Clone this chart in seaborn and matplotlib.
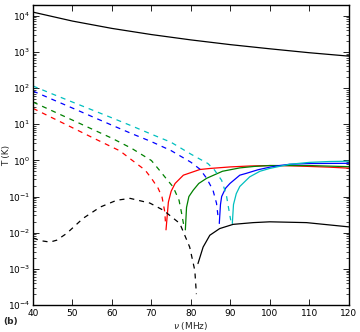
import matplotlib
matplotlib.use("Agg")
import matplotlib.pyplot as plt
import seaborn as sns
import pandas as pd
from matplotlib.ticker import LogLocator, FixedLocator

# ---- data: frequency (MHz) and temperature (K) ----
fg_nu = [40, 50, 60, 70, 80, 90, 100, 110, 120]
fg_T = [12600, 7130, 4470, 3020, 2150, 1590, 1220, 950, 765]

red_neg_nu = [40, 45, 50, 55, 60, 62, 65, 68.4, 70, 71.7, 72.7, 73.4, 73.6]
red_neg_T = [27.5, 14.8, 8.0, 4.3, 2.34, 1.84, 1.03, 0.54, 0.32, 0.17, 0.096, 0.037, 0.016]
red_pos_nu = [73.7, 74.3, 75, 76, 78.1, 82.3, 85, 90, 95, 100, 105, 110, 115, 120]
red_pos_T = [0.012, 0.07, 0.14, 0.23, 0.39, 0.56, 0.6, 0.66, 0.7, 0.72, 0.71, 0.68, 0.65, 0.61]

green_neg_nu = [40, 45, 50, 55, 60, 65, 70, 72, 74, 75.5, 77, 77.6, 78.2]
green_neg_T = [41, 23.1, 13.0, 7.3, 4.1, 2.15, 0.99, 0.54, 0.29, 0.185, 0.079, 0.037, 0.016]
green_pos_nu = [78.6, 78.9, 79.5, 80.6, 82, 84, 88, 92.4, 96, 100, 110, 120]
green_pos_T = [0.012, 0.05, 0.1, 0.15, 0.23, 0.32, 0.5, 0.62, 0.68, 0.72, 0.72, 0.67]

blue_neg_nu = [40, 45, 50, 55, 60, 65, 70, 75, 80, 82.3, 84, 85.6, 86.5, 86.9]
blue_neg_T = [82.8, 48, 28, 16.2, 9.4, 5.5, 3.3, 1.86, 0.89, 0.57, 0.32, 0.15, 0.065, 0.027]
blue_pos_nu = [87.2, 87.5, 87.8, 88.8, 89.9, 92.4, 94.1, 97, 100, 102.5, 105, 110, 120]
blue_pos_T = [0.018, 0.06, 0.1, 0.17, 0.23, 0.39, 0.44, 0.55, 0.65, 0.72, 0.78, 0.82, 0.83]

cyan_neg_nu = [40, 45, 50, 55, 60, 65, 70, 75, 80, 84.3, 86, 87.8, 89, 89.5, 90.1]
cyan_neg_T = [114, 68, 41, 24.8, 15.0, 9.0, 5.3, 3.16, 1.49, 0.82, 0.54, 0.28, 0.109, 0.052, 0.022]
cyan_pos_nu = [90.5, 90.8, 91.5, 92.4, 94.9, 97.5, 100, 105, 110, 115, 120]
cyan_pos_T = [0.018, 0.06, 0.12, 0.19, 0.35, 0.5, 0.6, 0.78, 0.88, 0.93, 0.95]

black_neg_nu = [40, 42, 44.3, 46, 48.5, 52.7, 57, 61.2, 64.6, 69.6, 73, 77.2, 79.7, 81, 81.4]
black_neg_T = [0.0071, 0.006, 0.0055, 0.0062, 0.0095, 0.025, 0.051, 0.079, 0.089, 0.066, 0.042,
               0.018, 0.004, 0.0009, 0.0002]
black_pos_nu = [81.8, 83.1, 84.8, 87.3, 90.7, 95.8, 100, 109.3, 120]
black_pos_T = [0.0014, 0.004, 0.0085, 0.013, 0.017, 0.019, 0.020, 0.019, 0.0145]

x_ticks = [40, 50, 60, 70, 80, 90, 100, 110, 120]

# -------------
sns.set_style("white")
plt.rcParams["font.family"] = ["DejaVu Sans"]
plt.rcParams["font.size"] = 6.5

fig = plt.figure(figsize=(3.6, 3.32), dpi=100)
ax = fig.add_axes([0.0917, 0.0813, 0.877, 0.904])

curves = [
    (fg_nu, fg_T, "k", "-"),
    (red_neg_nu, red_neg_T, "r", "--"),
    (red_pos_nu, red_pos_T, "r", "-"),
    (green_neg_nu, green_neg_T, "g", "--"),
    (green_pos_nu, green_pos_T, "g", "-"),
    (blue_neg_nu, blue_neg_T, "b", "--"),
    (blue_pos_nu, blue_pos_T, "b", "-"),
    (cyan_neg_nu, cyan_neg_T, "c", "--"),
    (cyan_pos_nu, cyan_pos_T, "c", "-"),
    (black_neg_nu, black_neg_T, "k", "--"),
    (black_pos_nu, black_pos_T, "k", "-"),
]

for nu, T, col, ls in curves:
    df = pd.DataFrame({"nu": nu, "T": T})
    sns.lineplot(data=df, x="nu", y="T", color=col, lw=0.9, ax=ax,
                 sort=False, estimator=None)
    if ls == "--":
        ax.lines[-1].set_dashes((4, 4))

ax.set_yscale("log")
ax.set_xlim(40, 120)
ax.set_ylim(1e-4, 2e4)
ax.xaxis.set_major_locator(FixedLocator(x_ticks))
ax.yaxis.set_major_locator(LogLocator(base=10, numticks=20))
ax.yaxis.set_minor_locator(LogLocator(base=10, subs=range(2, 10), numticks=20))

ax.tick_params(which="both", direction="in", top=True, right=True, labelsize=6.5,
               bottom=True, left=True, colors="black")
ax.tick_params(which="major", length=4, width=0.6, pad=2)
ax.tick_params(axis="x", which="major", pad=3)
ax.tick_params(which="minor", length=2, width=0.5)
for s in ax.spines.values():
    s.set_color("black")
    s.set_linewidth(1.0)

ax.set_xlabel(r"$\nu$ (MHz)", fontsize=6.5)
ax.set_ylabel("T (K)", fontsize=6.5)
ax.xaxis.set_label_coords(0.5, -0.05)
ax.yaxis.set_label_coords(-0.07, 0.5)
fig.text(0.01, 0.032, "(b)", fontsize=6.5, fontweight="bold", va="center")

fig.savefig("out.png", dpi=100)
